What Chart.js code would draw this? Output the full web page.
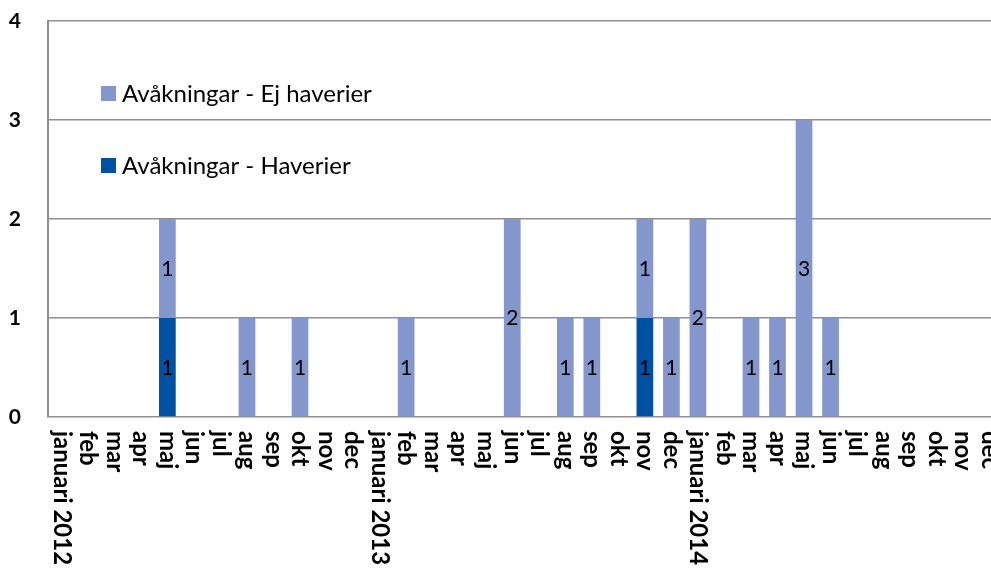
<!DOCTYPE html>
<html><head><meta charset="utf-8">
<script src="https://cdn.jsdelivr.net/npm/chart.js@4.4.0/dist/chart.umd.min.js"></script>
<style>html,body{margin:0;padding:0;background:#fff;overflow:hidden;width:991px;height:571px}
#wrap{position:relative;width:1010px;height:571px}</style></head><body>
<div id="wrap"><canvas id="c" width="1010" height="571"></canvas></div>
<script>
const categories = ['januari 2012','feb','mar','apr','maj','jun','jul','aug','sep','okt','nov','dec',
  'januari 2013','feb','mar','apr','maj','jun','jul','aug','sep','okt','nov','dec',
  'januari 2014','feb','mar','apr','maj','jun','jul','aug','sep','okt','nov','dec'];
const haverier =   [0,0,0,0,1,0,0,0,0,0,0,0, 0,0,0,0,0,0,0,0,0,0,1,0, 0,0,0,0,0,0,0,0,0,0,0,0];
const ejHaverier = [0,0,0,0,1,0,0,1,0,1,0,0, 0,1,0,0,0,2,0,1,1,0,1,1, 2,0,1,1,3,1,0,0,0,0,0,0];
const yMin = 0, yMax = 4, yStep = 1;
const seriesNames = ['Avåkningar - Haverier','Avåkningar - Ej haverier'];
const seriesColors = ['#0051A3','#8497CD'];
const FONT = 'Lato, "Open Sans", sans-serif';

const valueLabels = {
  id:'valueLabels',
  afterDatasetsDraw(chart){
    const ctx = chart.ctx;
    ctx.save();
    ctx.font = '21px ' + FONT;
    ctx.fillStyle = '#000';
    ctx.textAlign = 'center';
    ctx.textBaseline = 'middle';
    chart.data.datasets.forEach((ds, di) => {
      const meta = chart.getDatasetMeta(di);
      meta.data.forEach((el, i) => {
        const v = ds.data[i];
        if (!v) return;
        ctx.fillText(String(v), el.x, (el.y + el.base) / 2 + 1);
      });
    });
    ctx.restore();
  }
};

const axisLabels = {
  id:'axisLabels',
  afterDraw(chart){
    const ctx = chart.ctx, xs = chart.scales.x, ys = chart.scales.y;
    ctx.save();
    ctx.fillStyle = '#000';
    // x labels, rotated clockwise
    ctx.font = 'bold 24px ' + FONT;
    ctx.textAlign = 'left';
    ctx.textBaseline = 'middle';
    chart.data.labels.forEach((lab, i) => {
      const x = xs.getPixelForValue(i);
      ctx.save();
      ctx.translate(x, chart.chartArea.bottom + 14);
      ctx.rotate(Math.PI / 2);
      ctx.fillText(lab, 0, 0);
      ctx.restore();
    });
    // y labels
    ctx.font = 'bold 21px ' + FONT;
    ctx.textAlign = 'right';
    ctx.textBaseline = 'middle';
    ys.ticks.forEach(t => {
      ctx.fillText(String(t.value), 21, ys.getPixelForValue(t.value));
    });
    ctx.restore();
  }
};

const insideLegend = {
  id:'insideLegend',
  afterDraw(chart){
    const ctx = chart.ctx;
    const order = [1, 0];
    ctx.save();
    ctx.font = '24px ' + FONT;
    ctx.textAlign = 'left';
    ctx.textBaseline = 'middle';
    order.forEach((di, k) => {
      const ds = chart.data.datasets[di];
      const y = 86 + k * 72;
      ctx.fillStyle = ds.backgroundColor;
      ctx.fillRect(101, y, 15, 15);
      ctx.fillStyle = '#000';
      ctx.fillText(ds.label, 122, y + 8);
    });
    ctx.restore();
  }
};

new Chart(document.getElementById('c'), {
  type:'bar',
  data:{
    labels: categories,
    datasets:[
      {label: seriesNames[0], data: haverier, backgroundColor: seriesColors[0]},
      {label: seriesNames[1], data: ejHaverier, backgroundColor: seriesColors[1]}
    ]
  },
  options:{
    responsive:false,
    animation:false,
    devicePixelRatio:1,
    layout:{padding:{left:6, right:7, top:21, bottom:154}},
    datasets:{bar:{barPercentage:1, categoryPercentage:0.63}},
    plugins:{legend:{display:false}, tooltip:{enabled:false}},
    scales:{
      x:{stacked:true, offset:true, grid:{display:false}, border:{display:false}, ticks:{display:false},
         afterFit(s){ s.height = 0; s.paddingLeft = 0; s.paddingRight = 0; }},
      y:{stacked:true, min:yMin, max:yMax,
         ticks:{stepSize:yStep, display:false},
         grid:{color:'#8f8f8f', lineWidth:1.5, drawTicks:false},
         border:{color:'#8f8f8f', width:2},
         afterFit(s){ s.width = 42; s.paddingTop = 0; s.paddingBottom = 0; }}
    }
  },
  plugins:[valueLabels, axisLabels, insideLegend]
});
</script></body></html>
